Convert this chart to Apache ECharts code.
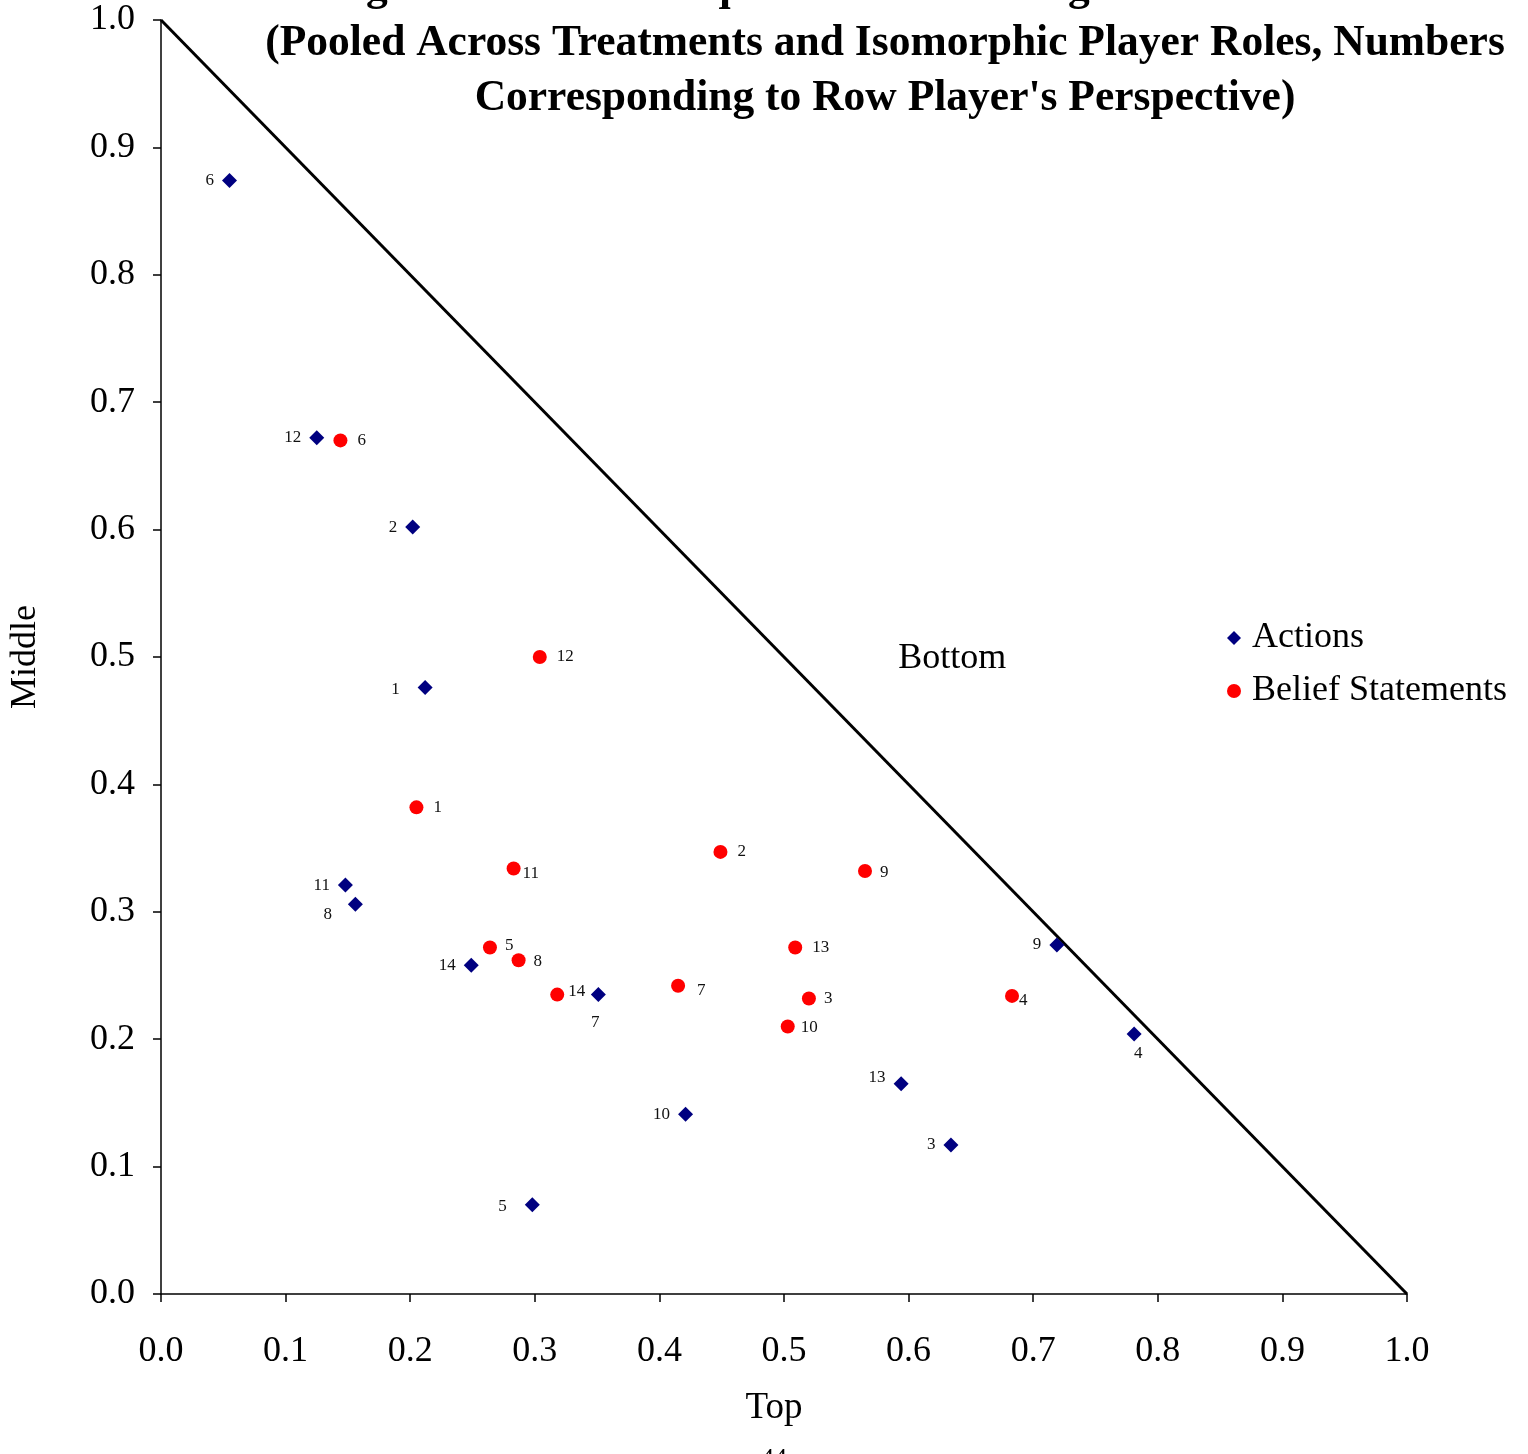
<!DOCTYPE html>
<html><head><meta charset="utf-8">
<script src="https://cdn.jsdelivr.net/npm/echarts@6/dist/echarts.min.js"></script>
<style>html,body{margin:0;padding:0;background:#fff}#c{width:1528px;height:1454px}</style>
</head><body><div id="c"></div>
<script>
// ---- data ----
const actionIds = [6, 12, 2, 1, 11, 8, 14, 7, 10, 5, 13, 3, 9, 4];
const actionTop = [0.055, 0.125, 0.202, 0.212, 0.148, 0.156, 0.249, 0.351, 0.421, 0.298, 0.594, 0.634, 0.719, 0.781];
const actionMid = [0.874, 0.672, 0.602, 0.476, 0.321, 0.306, 0.258, 0.235, 0.141, 0.070, 0.165, 0.117, 0.274, 0.204];

const beliefIds = [6, 12, 1, 11, 5, 8, 14, 7, 2, 9, 13, 3, 10, 4];
const beliefTop = [0.144, 0.304, 0.205, 0.283, 0.264, 0.287, 0.318, 0.415, 0.449, 0.565, 0.509, 0.520, 0.503, 0.683];
const beliefMid = [0.670, 0.500, 0.382, 0.334, 0.272, 0.262, 0.235, 0.242, 0.347, 0.332, 0.272, 0.232, 0.210, 0.234];

const boundaryTop = [0, 1];
const boundaryMid = [1, 0];

const xTicks = ['0.0','0.1','0.2','0.3','0.4','0.5','0.6','0.7','0.8','0.9','1.0'];
const titleLines = [
  "Figure 3: Action Frequencies and Average Belief Statements",
  "(Pooled Across Treatments and Isomorphic Player Roles, Numbers",
  "Corresponding to Row Player's Perspective)"
];
const regionLabel = { text: 'Bottom', top: 0.635, mid: 0.499 };

// ---- label placement (styling only) ----
const actionLabelStyle = {
  8: { position: 'left', offset: [-8, 10] },
  7: { position: 'bottom', offset: [-3, 4] },
  4: { position: 'bottom', offset: [4, -5] },
  1: { position: 'left', offset: [-10, 2] },
  5: { position: 'left', offset: [-10, 2] },
  13: { position: 'left', offset: [0, -6] }
};
const beliefLabelStyle = {
  4: { position: 'right', offset: [-10, 5] },
  14: { position: 'right', offset: [-6, -3] },
  10: { position: 'right', offset: [-4, 1] },
  3: { position: 'right', offset: [-2, 0] },
  5: { position: 'right', offset: [-2, -2] },
  8: { position: 'right', offset: [-2, 1] },
  11: { position: 'right', offset: [-8, 5] },
  7: { position: 'right', offset: [2, 5] },
  9: { position: 'right', offset: [-2, 1] }
};

const serif = '"Liberation Serif", "Times New Roman", serif';

function build(ids, tops, mids, styleMap) {
  return ids.map((id, i) => {
    const item = { value: [tops[i], mids[i]], name: String(id) };
    if (styleMap[id]) item.label = Object.assign({}, styleMap[id]);
    return item;
  });
}

const chart = echarts.init(document.getElementById('c'), null, { renderer: 'canvas' });
chart.setOption({
  animation: false,
  backgroundColor: '#ffffff',
  title: {
    text: titleLines.join('\n'),
    left: 880, top: -44,
    textAlign: 'center',
    textStyle: { fontFamily: serif, fontWeight: 'bold', fontSize: 43.5, lineHeight: 55, color: '#000' }
  },
  legend: {
    orient: 'vertical',
    left: 1222, top: 615,
    itemGap: 17,
    itemWidth: 14, itemHeight: 14,
    textStyle: { fontFamily: serif, fontSize: 36, color: '#000', padding: [0, 0, 0, 6] },
    data: [
      { name: 'Actions', icon: 'diamond', itemStyle: { color: '#000080', opacity: 1 } },
      { name: 'Belief Statements', icon: 'circle', itemStyle: { color: '#ff0000', opacity: 1 } }
    ]
  },
  grid: { left: 160, right: 121, top: 20, bottom: 160, containLabel: false },
  xAxis: {
    type: 'value', min: 0, max: 1, interval: 0.1,
    name: 'Top', nameLocation: 'middle', nameGap: 96,
    nameTextStyle: { fontFamily: serif, fontSize: 37, color: '#000', padding: [0, 20, 0, 0] },
    axisLine: { show: true, onZero: false, lineStyle: { color: '#000', width: 1.5 } },
    axisTick: { show: true, inside: false, length: 8, lineStyle: { color: '#000', width: 1.5 } },
    splitLine: { show: false },
    axisLabel: { fontFamily: serif, fontSize: 36, color: '#000', margin: 40,
      formatter: (v) => xTicks[Math.round(v * 10)] }
  },
  yAxis: {
    type: 'value', min: 0, max: 1, interval: 0.1,
    name: 'Middle', nameLocation: 'middle', nameGap: 117,
    nameTextStyle: { fontFamily: serif, fontSize: 36, color: '#000' },
    axisLine: { show: true, onZero: false, lineStyle: { color: '#000', width: 1.5 } },
    axisTick: { show: true, inside: false, length: 8, lineStyle: { color: '#000', width: 1.5 } },
    splitLine: { show: false },
    axisLabel: { fontFamily: serif, fontSize: 36, color: '#000', margin: 26,
      formatter: (v) => xTicks[Math.round(v * 10)] }
  },
  series: [
    {
      type: 'line', name: 'boundary',
      data: boundaryTop.map((t, i) => [t, boundaryMid[i]]),
      symbol: 'none', silent: true,
      lineStyle: { color: '#000', width: 3 }, z: 1,
      markPoint: {
        silent: true,
        symbol: 'circle', symbolSize: 0,
        itemStyle: { color: 'transparent' },
        label: { show: true, position: 'inside', formatter: regionLabel.text,
          fontFamily: serif, fontSize: 36, color: '#000', opacity: 1 },
        data: [{ coord: [regionLabel.top, regionLabel.mid] }]
      }
    },
    {
      type: 'scatter', name: 'Actions',
      data: build(actionIds, actionTop, actionMid, actionLabelStyle),
      symbol: 'diamond', symbolSize: 15,
      itemStyle: { color: '#000080', opacity: 1 },
      label: { show: true, position: 'left', distance: 8, formatter: '{b}',
        fontFamily: serif, fontSize: 17, color: '#111' }, z: 3
    },
    {
      type: 'scatter', name: 'Belief Statements',
      data: build(beliefIds, beliefTop, beliefMid, beliefLabelStyle),
      symbol: 'circle', symbolSize: 14,
      itemStyle: { color: '#ff0000', opacity: 1 },
      label: { show: true, position: 'right', distance: 10, formatter: '{b}',
        fontFamily: serif, fontSize: 17, color: '#111' }, z: 3
    }
  ],
  graphic: [
    { type: 'text', left: 761, top: 1446,
      style: { text: '44', font: '26px ' + serif, fill: '#000' } }
  ]
});
</script>
</body></html>
